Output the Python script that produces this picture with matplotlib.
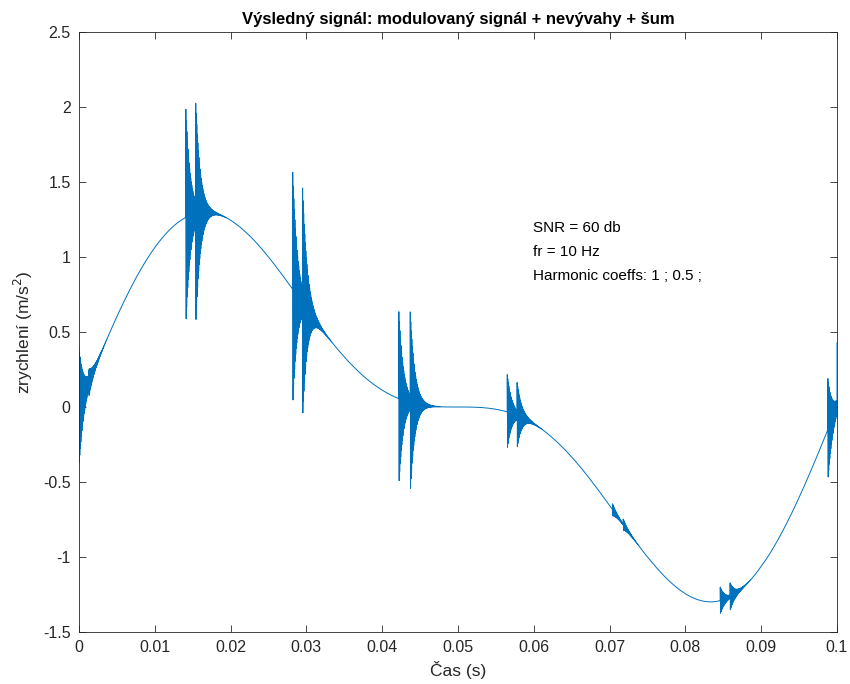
import numpy as np
import matplotlib.pyplot as plt

plt.rcParams['font.family'] = ['Liberation Sans', 'DejaVu Sans']

fr = 10.0                      # Hz
harmonic_coeffs = [1.0, 0.5]
snr_db = 60

# impact times (s) and ringing amplitudes
burst_times = [0.0000, 0.0013, 0.0141, 0.0154, 0.0282, 0.0295, 0.0422, 0.0437,
               0.0565, 0.0578, 0.0704, 0.0718, 0.0846, 0.0859, 0.0988, 0.1000]
burst_amps = [0.40, 0.07, 0.72, 0.72, 0.78, 0.74, 0.58, 0.56,
              0.25, 0.21, 0.04, 0.04, 0.09, 0.09, 0.34, 0.41]
ring_freq = 14000.0            # Hz
ring_tau = 0.0006              # s

fs = 1000000
t = np.arange(0, 0.1 + 1 / fs, 1 / fs)

y = np.zeros_like(t)
for k, c in enumerate(harmonic_coeffs):
    y += c * np.sin(2 * np.pi * fr * (k + 1) * t)

for t0, a in zip(burst_times, burst_amps):
    dt = t - t0
    m = dt >= 0
    y[m] += a * np.exp(-dt[m] / ring_tau) * np.cos(2 * np.pi * ring_freq * dt[m])

fig = plt.figure(figsize=(8.5, 6.84), dpi=100)
ax = fig.add_axes([79 / 850, 1 - 632 / 684, (837 - 79) / 850, (632 - 32) / 684])
ax.plot(t, y, color='#0072BD', linewidth=0.7)

ax.set_xlim(0, 0.1)
ax.set_ylim(-1.5, 2.5)
xt = np.arange(0, 0.1001, 0.01)
ax.set_xticks(xt)
ax.set_xticklabels(['0'] + ['%g' % v for v in xt[1:]])
yt = np.arange(-1.5, 2.51, 0.5)
ax.set_yticks(yt)
ax.set_yticklabels(['%g' % v for v in yt])
ax.tick_params(direction='in', top=True, right=True, labelsize=11.5,
               colors='#262626', length=5, width=0.6, pad=6)
for s in ax.spines.values():
    s.set_color('#262626')
    s.set_linewidth(0.6)

ax.set_title('Výsledný signál: modulovaný signál + nevývahy + šum',
             fontsize=12, fontweight='bold', color='black', pad=6)
ax.set_xlabel('Čas (s)', fontsize=12.5, color='#262626', labelpad=4)
ax.set_ylabel('zrychlení (m/s$^2$)', fontsize=12.5, color='#262626', labelpad=6)

ax.text(0.0599, 1.19, 'SNR = %d db' % snr_db, fontsize=11, va='center')
ax.text(0.0599, 1.03, 'fr = %d Hz' % fr, fontsize=11, va='center')
ax.text(0.0599, 0.87, 'Harmonic coeffs: 1 ; 0.5 ;', fontsize=11, va='center')

fig.savefig('out.png', dpi=100)
